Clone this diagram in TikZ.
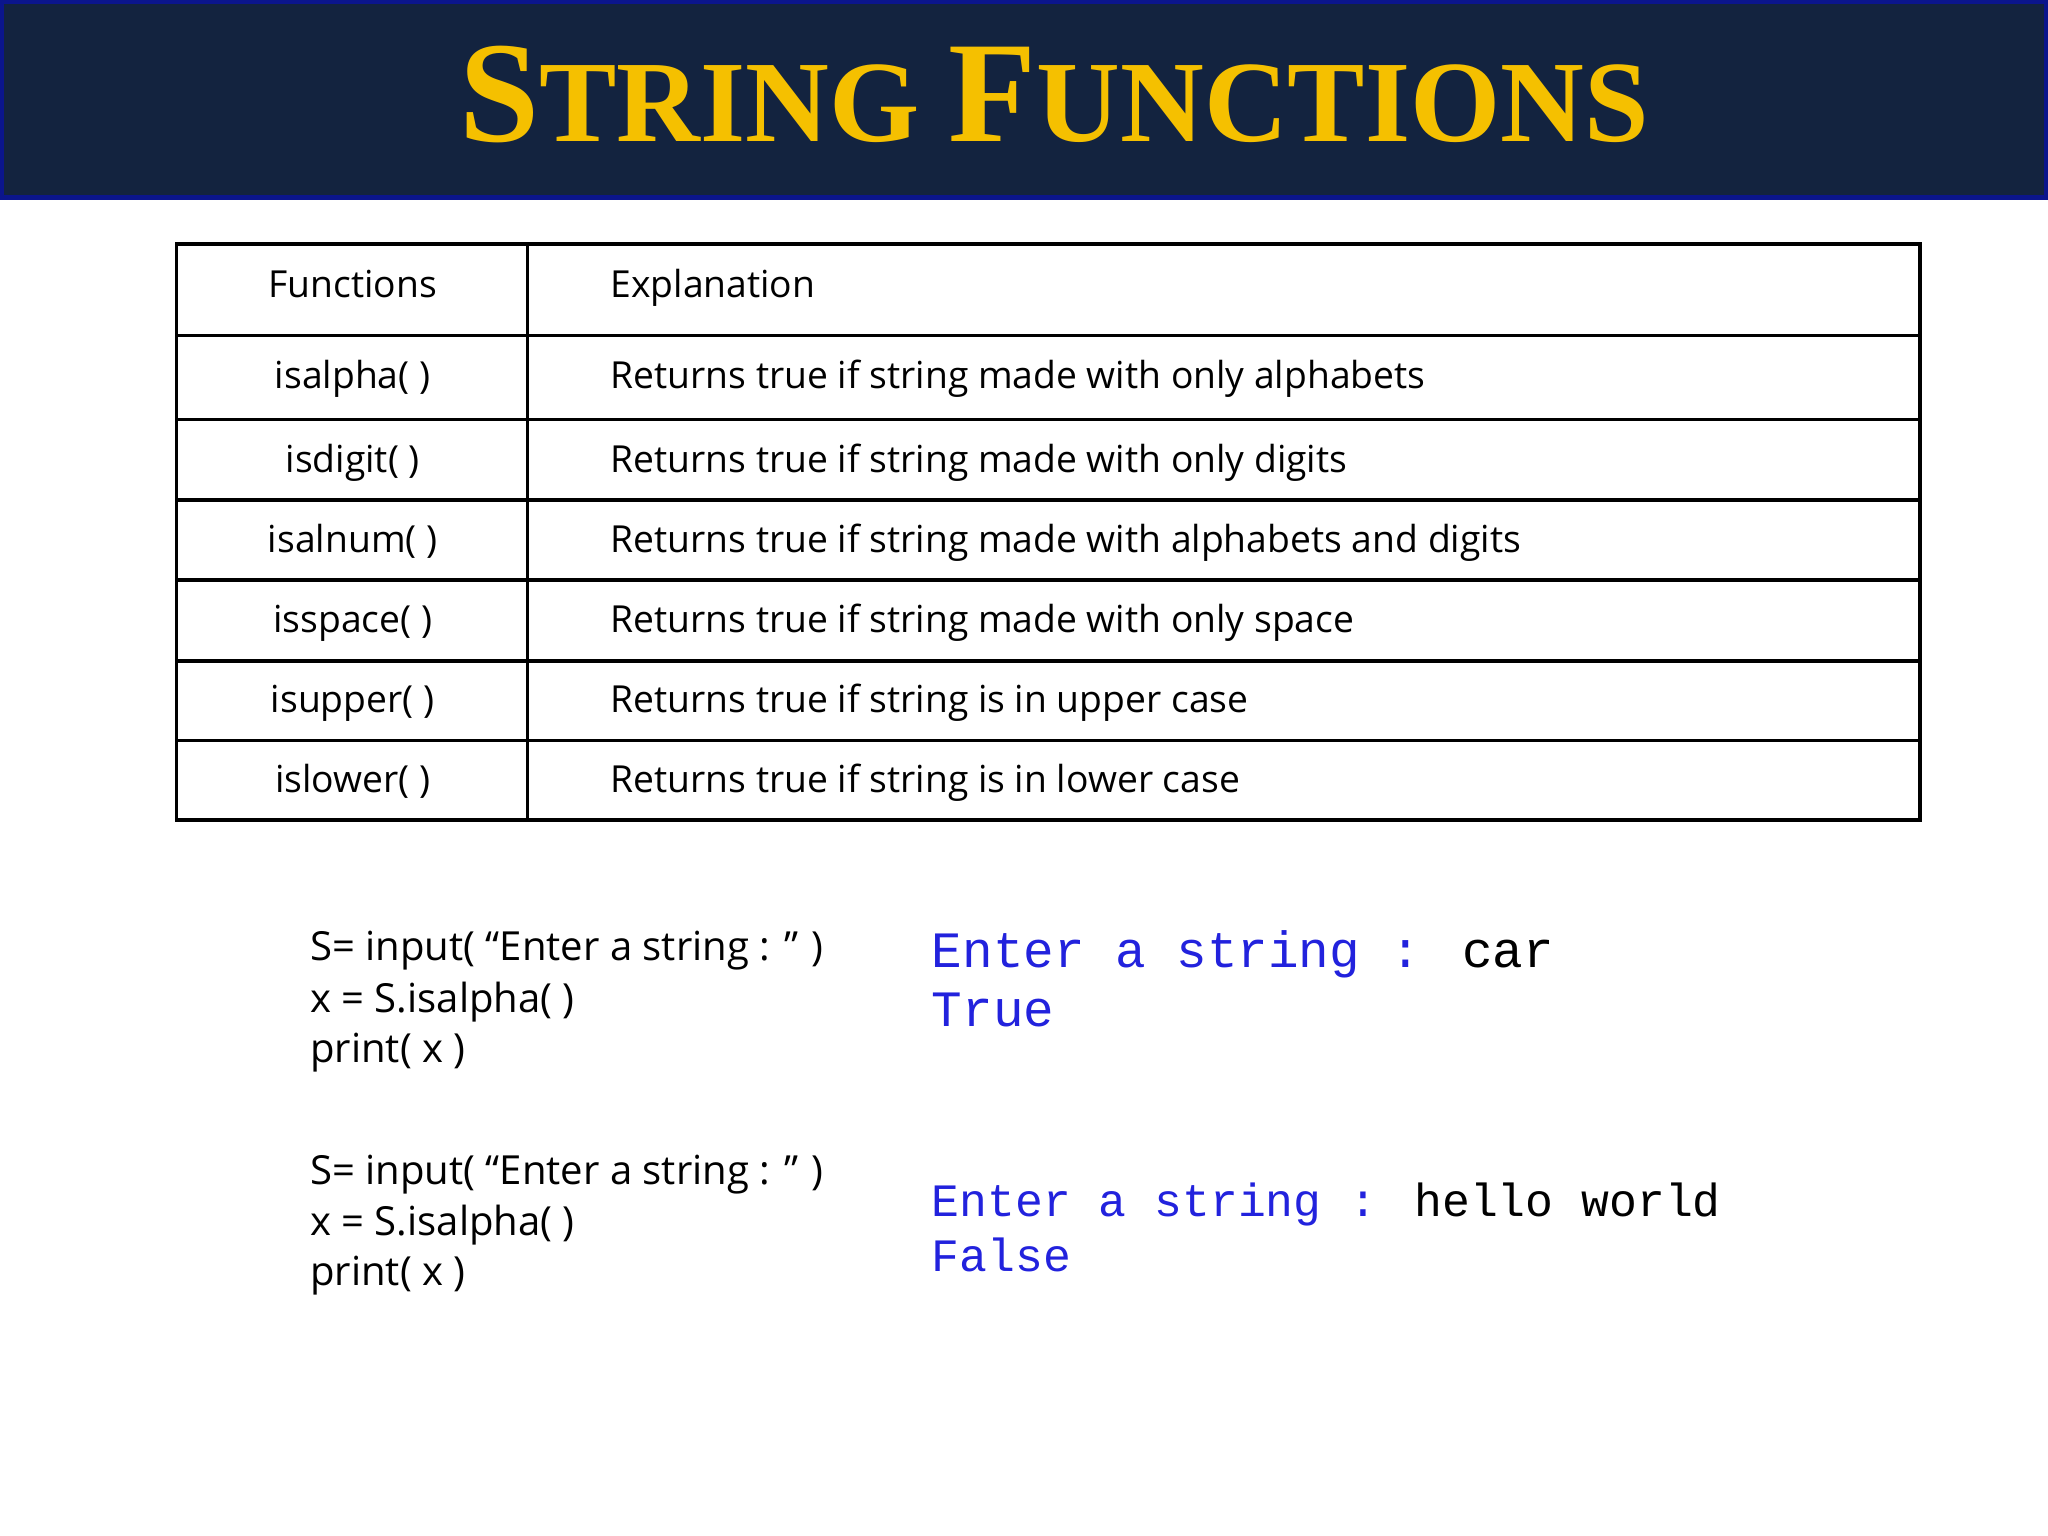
\documentclass[tikz,border=0pt]{standalone}
\usepackage{fontspec}
\setmainfont{Open Sans}
\newfontfamily\codefont{Liberation Mono}
\newfontfamily\titlefont{Liberation Serif}
\usepackage{xcolor}
\definecolor{navy}{HTML}{13233F}
\definecolor{gold}{HTML}{F5C000}
\definecolor{outblue}{HTML}{2222DD}
\tikzset{
  cell/.style={anchor=center, text height=1.6ex, text depth=.4ex, font=\fontsize{10.6}{12}\selectfont},
  expl/.style={anchor=west, text height=1.6ex, text depth=.4ex, font=\fontsize{10.6}{12}\selectfont},
  codeline/.style={anchor=west, font=\fontsize{11.4}{13}\selectfont},
  outline/.style={anchor=west, font=\codefont\fontsize{#1}{16}\selectfont, text=outblue},
}
\begin{document}
\begin{tikzpicture}[x=0.01306cm, y=-0.01306cm]
    \useasboundingbox (0,0) rectangle (1568,1176);
    \fill [white] (0,0) rectangle (1568,1176);
    % header band
    \fill [navy] (0,0) rectangle (1568,152);
    \draw [blue!40!navy, line width=1.5pt] (1,1) rectangle (1567,151);
    \node (title) at (807,72) {\titlefont\bfseries\color{gold}\fontsize{41}{44}\selectfont
      S\fontsize{33}{44}\selectfont TRING \fontsize{41}{44}\selectfont F\fontsize{33}{44}\selectfont UNCTIONS};
    % table
    \draw [line width=1pt] (135,187) rectangle (1470,628);
    \draw [line width=1pt] (404,187) -- (404,628);
    \foreach \y in {257,321,383,444,506,567}
      \draw [line width=1pt] (135,\y) -- (1470,\y);
    \node [cell] (hfun) at (270,219) {Functions};
    \node [expl] (hexp) at (458,219) {Explanation};
    \foreach \f/\e/\y [count=\i] in {
      isalpha( )/Returns true if string made with only alphabets/289,
      isdigit( )/Returns true if string made with only digits/353,
      isalnum( )/Returns true if string made with alphabets and digits/414,
      isspace( )/Returns true if string made with only space/476,
      isupper( )/Returns true if string is in upper case/537,
      islower( )/Returns true if string is in lower case/598} {
      \node [cell] (fun\i) at (270,\y) {\f};
      \node [expl] (exp\i) at (458,\y) {\e};
    }
    % first example
    \node [codeline] (codeA1) at (228,728) {S= input( “Enter a string : ” )};
    \node [codeline] (codeA2) at (228,767) {x = S.isalpha( )};
    \node [codeline] (codeA3) at (228,806) {print( x )};
    \node [outline=14.5] (outA1) at (704,731) {Enter a string : \textcolor{black}{car}};
    \node [outline=14.5] (outA2) at (704,773) {True};
    % second example
    \node [codeline] (codeB1) at (228,899) {S= input( “Enter a string : ” )};
    \node [codeline] (codeB2) at (228,938) {x = S.isalpha( )};
    \node [codeline] (codeB3) at (228,977) {print( x )};
    \node [outline=13.2] (outB1) at (704,922) {Enter a string : \textcolor{black}{hello world}};
    \node [outline=13.2] (outB2) at (704,961) {False};
\end{tikzpicture}
\end{document}
